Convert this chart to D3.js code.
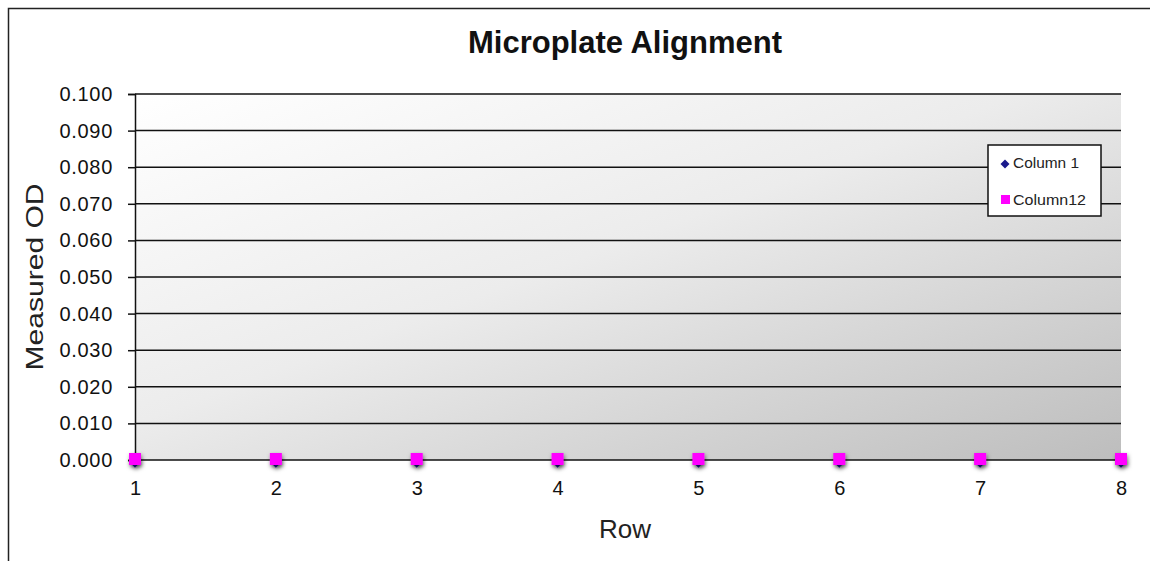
<!DOCTYPE html>
<html><head><meta charset="utf-8">
<script src="https://cdn.jsdelivr.net/npm/d3@7"></script>
<style>body{margin:0;background:#fff}svg{display:block;font-family:Arial,"Liberation Sans",sans-serif}</style>
</head><body>
<svg id="c" width="1150" height="561"></svg>
<script>
const rows = [1,2,3,4,5,6,7,8];
const column1 = [0,0,0,0,0,0,0,0];
const column12 = [0,0,0,0,0,0,0,0];
const yTicks = [0,0.01,0.02,0.03,0.04,0.05,0.06,0.07,0.08,0.09,0.1];
const seriesNames = ["Column 1","Column12"];

const svg = d3.select("#c");
const m = {l:135, r:1121, t:94, b:460};
const x = d3.scaleLinear().domain([1,8]).range([m.l, m.r]);
const y = d3.scaleLinear().domain([0,0.1]).range([m.b, m.t]);
const FONT = "Arial, Liberation Sans, sans-serif";

const defs = svg.append("defs");
const g = defs.append("linearGradient").attr("id","bg").attr("x1","0%").attr("y1","0%").attr("x2","100%").attr("y2","100%");
g.append("stop").attr("offset","0%").attr("stop-color","#ffffff");
g.append("stop").attr("offset","45%").attr("stop-color","#ececec");
g.append("stop").attr("offset","100%").attr("stop-color","#bdbdbd");
const f = defs.append("filter").attr("id","sh").attr("x","-100%").attr("y","-100%").attr("width","300%").attr("height","300%");
f.append("feDropShadow").attr("dx",1).attr("dy",2).attr("stdDeviation",2).attr("flood-color","#000").attr("flood-opacity",0.5);

// outer frame
svg.append("rect").attr("x",8.5).attr("y",8.5).attr("width",1160).attr("height",570)
  .attr("fill","none").attr("stroke","#222").attr("stroke-width",1.5);

// plot area
svg.append("rect").attr("x",m.l).attr("y",m.t).attr("width",m.r-m.l).attr("height",m.b-m.t).attr("fill","url(#bg)");

// gridlines
svg.append("g").selectAll("line").data(yTicks).join("line")
  .attr("x1",m.l).attr("x2",m.r).attr("y1",d=>y(d)).attr("y2",d=>y(d))
  .attr("stroke","#111").attr("stroke-width",1.5);

// y axis
const ya = svg.append("g").attr("transform",`translate(${m.l},0)`)
  .call(d3.axisLeft(y).tickValues(yTicks).tickFormat(d3.format(".3f")).tickSize(7).tickPadding(15));
ya.select(".domain").attr("stroke","#111").attr("stroke-width",1.5);
ya.selectAll(".tick line").attr("stroke","#111").attr("stroke-width",1.5);
ya.selectAll("text").attr("font-size",20).attr("letter-spacing","0.7px").attr("fill","#111").attr("font-family",FONT);

// x axis
const xa = svg.append("g").attr("transform",`translate(0,${m.b})`)
  .call(d3.axisBottom(x).tickValues(rows).tickFormat(d3.format("d")).tickSize(0).tickPadding(21));
xa.select(".domain").remove();
xa.selectAll("text").attr("font-size",20).attr("fill","#111").attr("font-family",FONT);

// series: column1 diamonds (rotated squares)
svg.append("g").attr("filter","url(#sh)").selectAll("rect").data(column1).join("rect")
  .attr("x",-4).attr("y",-4).attr("width",8).attr("height",8)
  .attr("transform",(d,i)=>`translate(${x(rows[i])},${y(d)+2}) rotate(45)`).attr("fill","#1a1a8c");
svg.append("g").attr("filter","url(#sh)").selectAll("rect").data(column12).join("rect")
  .attr("x",(d,i)=>x(rows[i])-6).attr("y",d=>y(d)-7).attr("width",12).attr("height",12).attr("fill","#ff00ff");

// title
svg.append("text").attr("x",625).attr("y",53).attr("text-anchor","middle")
  .attr("font-size",31).attr("font-weight","bold").attr("fill","#111").text("Microplate Alignment");
svg.append("text").attr("x",625).attr("y",538).attr("text-anchor","middle")
  .attr("font-size",26).attr("fill","#222").text("Row");
svg.append("text").attr("transform","translate(43,277) rotate(-90)").attr("text-anchor","middle")
  .attr("font-size",24).attr("textLength",187).attr("lengthAdjust","spacingAndGlyphs")
  .attr("fill","#222").text("Measured OD");

// legend
const lg = svg.append("g");
lg.append("rect").attr("x",988).attr("y",145).attr("width",113).attr("height",71)
  .attr("fill","#fff").attr("stroke","#111").attr("stroke-width",1.5);
lg.append("rect").attr("x",-3.2).attr("y",-3.2).attr("width",6.4).attr("height",6.4)
  .attr("transform","translate(1005,164) rotate(45)").attr("fill","#1a1a8c");
lg.append("rect").attr("x",1001).attr("y",195).attr("width",9).attr("height",9).attr("fill","#ff00ff");
lg.append("text").attr("x",1013).attr("y",168).attr("font-size",14).attr("textLength",66).attr("lengthAdjust","spacingAndGlyphs").attr("fill","#222").text(seriesNames[0]);
lg.append("text").attr("x",1013).attr("y",205).attr("font-size",14).attr("textLength",73).attr("lengthAdjust","spacingAndGlyphs").attr("fill","#222").text(seriesNames[1]);
</script>
</body></html>
